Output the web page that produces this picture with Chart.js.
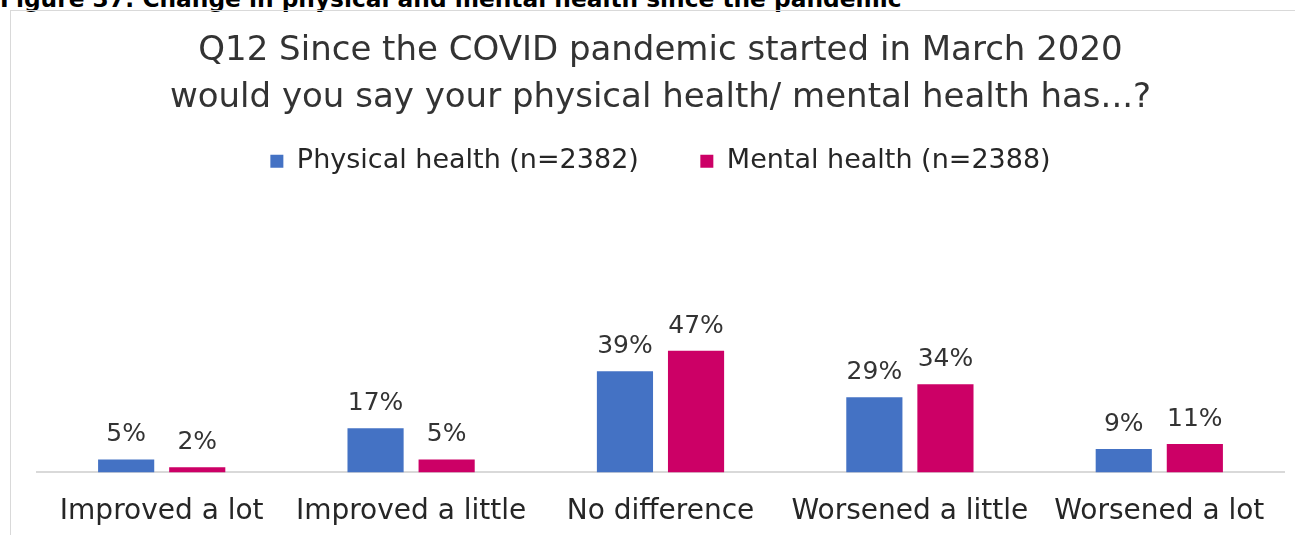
<!DOCTYPE html>
<html>
<head>
<meta charset="utf-8">
<script src="https://cdn.jsdelivr.net/npm/chart.js@4.4.0/dist/chart.umd.min.js"></script>
<style>
  body { margin: 0; background: #fff; width: 1295px; height: 535px; overflow: hidden; position: relative; }
  #caption { position: absolute; left: 0; top: -15px; font: bold 23.3px "DejaVu Sans", sans-serif; color: #000; white-space: nowrap; }
  #frame { position: absolute; left: 10px; top: 10px; width: 1300px; height: 560px; border-left: 1.5px solid #d9d9d9; border-top: 1.5px solid #d9d9d9; }
  canvas { position: absolute; left: 0; top: 0; }
</style>
</head>
<body>
<div id="caption">Figure 37: Change in physical and mental health since the pandemic</div>
<div id="frame"></div>
<!-- canvas runs a bit past the window bottom, the frame is cut there too -->
<canvas id="chart" width="1295" height="552"></canvas>
<script>
const categories = ['Improved a lot', 'Improved a little', 'No difference', 'Worsened a little', 'Worsened a lot'];
const physical = [5, 17, 39, 29, 9];
const mental = [2, 5, 47, 34, 11];
const seriesNames = ['Physical health (n=2382)', 'Mental health (n=2388)'];
const titleLines = ['Q12 Since the COVID pandemic started in March 2020', 'would you say your physical health/ mental health has...?'];

const FONT = '"DejaVu Sans", sans-serif';

// draws the % above each bar
const valueLabels = {
    id: 'valueLabels',
    afterDatasetsDraw(chart) {
        const ctx = chart.ctx;
        ctx.save();
        ctx.font = '25px ' + FONT;
        ctx.fillStyle = '#333333';
        ctx.textAlign = 'center';
        ctx.textBaseline = 'alphabetic';
        chart.data.datasets.forEach((ds, i) => {
            chart.getDatasetMeta(i).data.forEach((bar, j) => {
                ctx.fillText(ds.data[j] + '%', bar.x, bar.y - 18);
            });
        });
        ctx.restore();
    }
};

new Chart(document.getElementById('chart'), {
    type: 'bar',
    data: {
        labels: categories,
        datasets: [
            { label: seriesNames[0], data: physical, backgroundColor: '#4472C4' },
            { label: seriesNames[1], data: mental, backgroundColor: '#CC0066' }
        ]
    },
    options: {
        responsive: false,
        animation: false,
        categoryPercentage: 0.57,
        barPercentage: 0.79,
        layout: { padding: { left: 37, right: 11, top: 28, bottom: 0 } },
        scales: {
            x: {
                grid: { display: false, drawTicks: false },
                border: { display: true, color: '#d9d9d9', width: 2 },
                ticks: { color: '#262626', font: { family: FONT, size: 28 }, padding: 23 }
            },
            y: {
                display: false,
                min: 0,
                max: 111
            }
        },
        plugins: {
            title: {
                display: true,
                text: titleLines,
                color: '#333333',
                font: { family: FONT, size: 34, weight: 'normal', lineHeight: 1.38 },
                padding: { top: 0, bottom: 16 }
            },
            legend: {
                labels: {
                    color: '#262626',
                    font: { family: FONT, size: 27 },
                    boxWidth: 13,
                    boxHeight: 13,
                    padding: 10,
                    generateLabels(chart) {
                        const items = Chart.defaults.plugins.legend.labels.generateLabels(chart);
                        items[0].text += '      ';
                        return items;
                    }
                }
            },
            tooltip: { enabled: false }
        }
    },
    plugins: [valueLabels]
});
</script>
</body>
</html>
